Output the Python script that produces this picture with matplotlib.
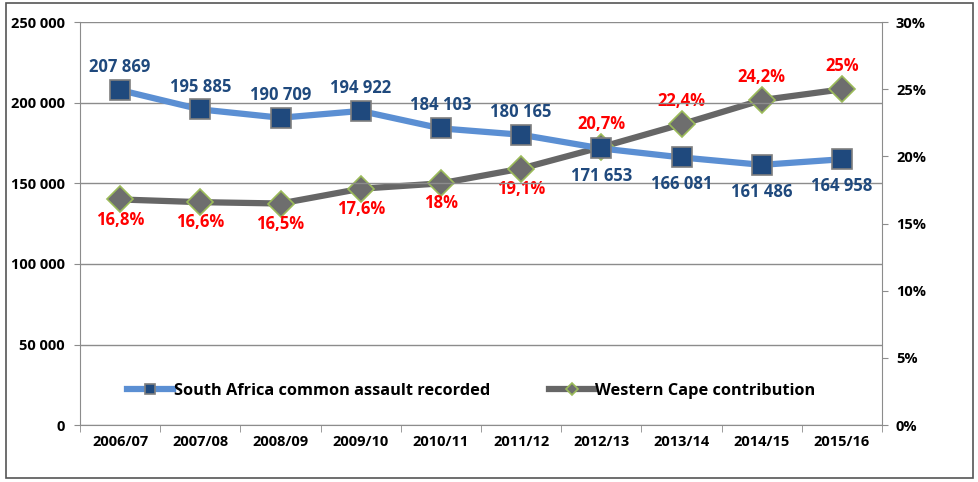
import matplotlib.pyplot as plt
from matplotlib.patches import Rectangle

years = ["2006/07", "2007/08", "2008/09", "2009/10", "2010/11",
         "2011/12", "2012/13", "2013/14", "2014/15", "2015/16"]
sa_assault = [207869, 195885, 190709, 194922, 184103, 180165, 171653, 166081, 161486, 164958]
wc_share = [16.8, 16.6, 16.5, 17.6, 18.0, 19.1, 20.7, 22.4, 24.2, 25.0]
wc_labels = ["16,8%", "16,6%", "16,5%", "17,6%", "18%", "19,1%", "20,7%", "22,4%", "24,2%", "25%"]

plt.rcParams['font.family'] = ['Open Sans', 'DejaVu Sans']

fig = plt.figure(figsize=(9.79, 4.82), dpi=100)
ax = fig.add_axes([0.0817, 0.118, 0.8193, 0.836])
ax2 = ax.twinx()

x = list(range(len(years)))

# left axis: South Africa counts
ax.plot(x, sa_assault, color="#5B8FD3", lw=4.5, marker="s", ms=15,
        mfc="#1F497D", mec="#7F7F7F", mew=1.2, zorder=3,
        label="South Africa common assault recorded")
ax.set_ylim(0, 250000)
ax.set_yticks(range(0, 250001, 50000))
ax.set_yticklabels([f"{v:,}".replace(",", " ") for v in range(0, 250001, 50000)])
ax.grid(axis="y", color="#8C8C8C", lw=1)
ax.set_axisbelow(True)

# right axis: Western Cape share
ax2.plot(x, wc_share, color="#666666", lw=4.5, marker="D", ms=13,
         mfc="#6E6E6E", mec="#9BBB59", mew=1.2, zorder=4,
         label="Western Cape contribution")
ax2.set_ylim(0, 30)
ax2.set_yticks(range(0, 31, 5))
ax2.set_yticklabels([f"{v}%" for v in range(0, 31, 5)])

ax.set_zorder(ax2.get_zorder() + 1)
ax.patch.set_visible(False)

ax.set_xlim(-0.5, len(years) - 0.5)
ax.set_xticks(x)
ax.set_xticklabels(years)
ax.set_xticks([i + 0.5 for i in range(-1, len(years))], minor=True)
ax.tick_params(axis="x", which="major", length=0, pad=7)
ax.tick_params(axis="x", which="minor", length=5, color="#8C8C8C")

for a in (ax, ax2):
    for s in a.spines.values():
        s.set_visible(False)
ax.spines["left"].set_visible(True)
ax.spines["bottom"].set_visible(True)
ax2.spines["right"].set_visible(True)
for s in (ax.spines["left"], ax.spines["bottom"], ax2.spines["right"]):
    s.set_color("#8C8C8C")

ax.tick_params(axis="y", length=4, color="#8C8C8C", pad=7)
ax2.tick_params(axis="y", length=4, color="#8C8C8C", pad=6)
for lab in ax.get_xticklabels() + ax.get_yticklabels() + ax2.get_yticklabels():
    lab.set_fontweight("bold")
    lab.set_fontsize(10.5)

# data labels
for i, v in enumerate(sa_assault):
    above = i < 6
    ax.annotate(f"{v:,}".replace(",", " "), (i, v),
                xytext=(0, 10 if above else -13), textcoords="offset points",
                ha="center", va="bottom" if above else "top",
                color="#1F497D", fontsize=12, fontweight="bold", zorder=6)
for i, v in enumerate(wc_share):
    above = i >= 6
    ax2.annotate(wc_labels[i], (i, v),
                 xytext=(0, 10 if above else -8), textcoords="offset points",
                 ha="center", va="bottom" if above else "top",
                 color="#FF0000", fontsize=12, fontweight="bold", zorder=6)

h1, l1 = ax.get_legend_handles_labels()
h2, l2 = ax2.get_legend_handles_labels()
leg = ax.legend(h1 + h2, l1 + l2, loc="center left", bbox_to_anchor=(0.04, 0.085),
                ncol=2, frameon=False, columnspacing=3.6, handlelength=2.8,
                handletextpad=0.05, markerscale=0.5,
                prop={"weight": "bold", "size": 11.8})

fig.patches.append(Rectangle((0.006, 0.008), 0.988, 0.985, transform=fig.transFigure,
                             fill=False, edgecolor="#555555", lw=1.2))

fig.savefig("out.png", dpi=100)
